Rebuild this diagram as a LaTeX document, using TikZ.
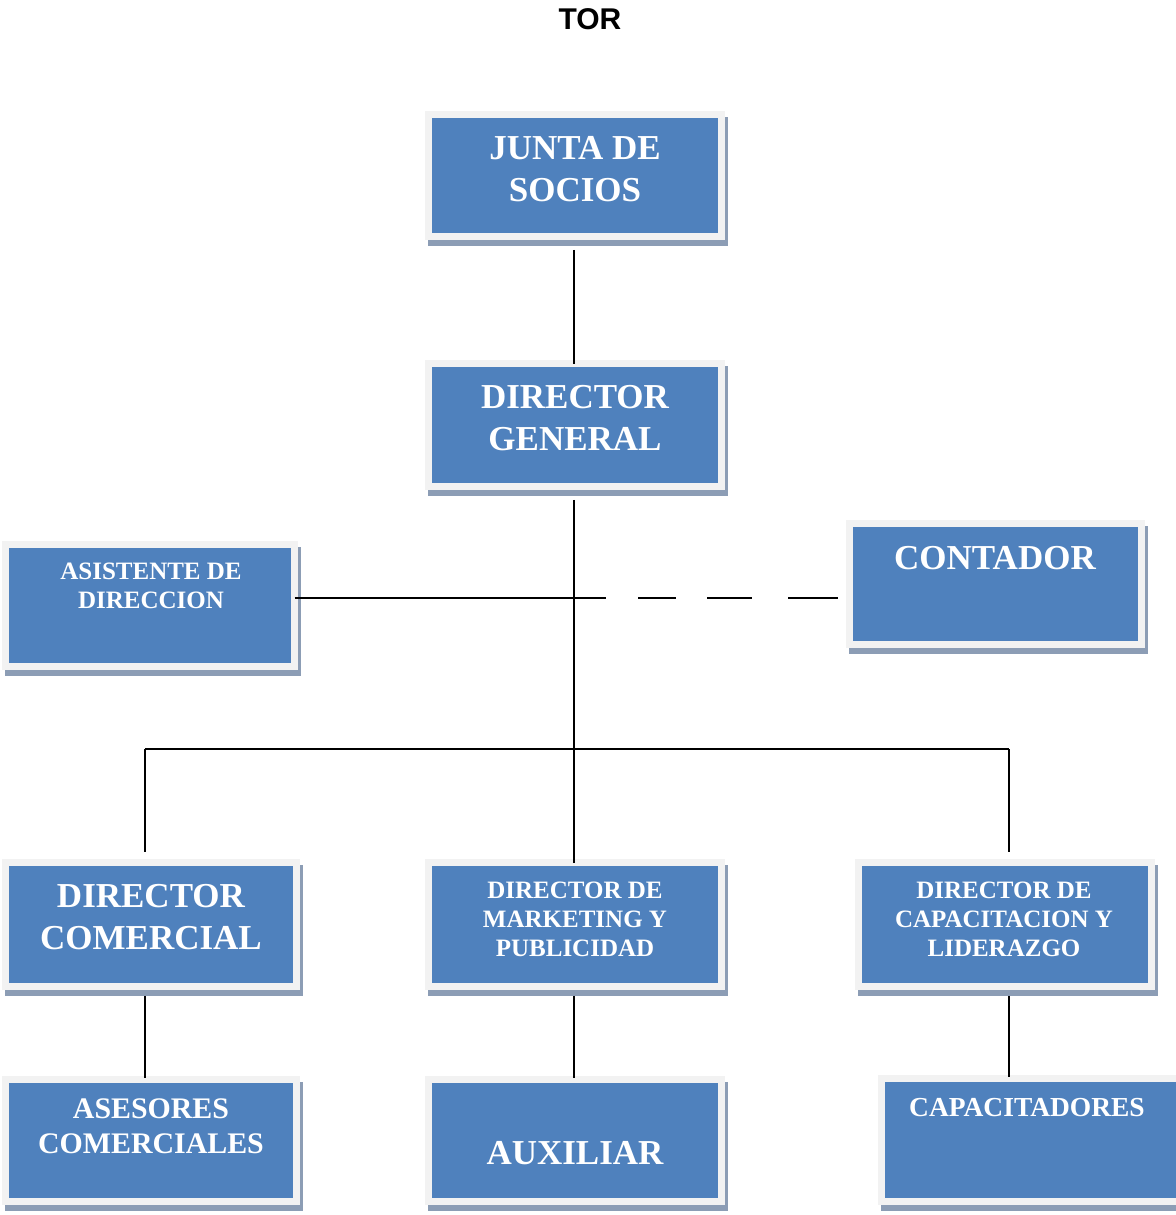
\documentclass[tikz,border=0pt]{standalone}
\usepackage{fontspec}
\setmainfont{Liberation Serif}
\newfontfamily\titlefont{Liberation Sans}
\definecolor{boxblue}{HTML}{4F81BD}
\definecolor{boxframe}{HTML}{F2F2F2}
\definecolor{boxshadow}{HTML}{8C9DB5}
\tikzset{
  orgframe/.style={draw=boxframe, fill=boxblue, line width=5.25pt, inner sep=0pt, outer sep=0pt},
  orgshadow/.style={fill=boxshadow},
  conn/.style={line width=1.4pt, black},
  lbl/.style={text=white, align=center, inner sep=0pt, font=\bfseries},
  lblbig/.style={lbl, font=\fontsize{26.25pt}{31.5pt}\selectfont\bfseries},
  lblsmall/.style={lbl, font=\fontsize{18.75pt}{21.75pt}\selectfont\bfseries},
  lblmid/.style={lbl, font=\fontsize{22.4pt}{26.25pt}\selectfont\bfseries},
  lblcap/.style={lbl, font=\fontsize{20.6pt}{24pt}\selectfont\bfseries},
}
\newcommand\orgbox[5]{%
  \fill[orgshadow] (#2+3,#3+6) rectangle (#4+3,#5+6);
  \node[orgframe, minimum width={(#4-#2-7)*0.75pt}, minimum height={(#5-#3-7)*0.75pt}] (#1) at ({(#2+#4)/2},{(#3+#5)/2}) {};
}
\begin{document}
\begin{tikzpicture}[x=0.75pt,y=-0.75pt]
\useasboundingbox (0,0) rectangle (1176,1215);
\node[font=\titlefont\fontsize{22.5pt}{27pt}\selectfont\bfseries, inner sep=0pt] (title) at (590,19) {TOR};

% boxes
\orgbox{junta}{425}{111}{725}{240}
\orgbox{dg}{425}{360}{725}{490}
\orgbox{asist}{2}{541}{298}{670}
\orgbox{cont}{846}{520}{1145}{648}
\orgbox{dircom}{2}{859}{300}{990}
\orgbox{mark}{425}{859}{725}{990}
\orgbox{capac}{855}{859}{1155}{990}
\orgbox{ases}{2}{1076}{300}{1205}
\orgbox{aux}{425}{1076}{725}{1205}
\orgbox{capt}{878}{1075}{1183}{1205}

% labels
\node[lblbig] (tjunta) at (575,169) {JUNTA DE\\SOCIOS};
\node[lblbig] (tdg) at (575,418) {DIRECTOR\\GENERAL};
\node[lblsmall] (tasist) at (151,586) {ASISTENTE DE\\DIRECCION};
\node[lblbig] (tcont) at (995,558) {CONTADOR};
\node[lblbig] (tdircom) at (151,917) {DIRECTOR\\COMERCIAL};
\node[lblsmall] (tmark) at (575,919) {DIRECTOR DE\\MARKETING Y\\PUBLICIDAD};
\node[lblsmall] (tcapac) at (1004,919) {DIRECTOR DE\\CAPACITACION Y\\LIDERAZGO};
\node[lblmid] (tases) at (151,1126) {ASESORES\\COMERCIALES};
\node[lblbig] (taux) at (575,1153) {AUXILIAR};
\node[lblcap] (tcapt) at (1027,1108) {CAPACITADORES};

% connectors
\coordinate (hub) at (574,598);
\coordinate (busl) at (145,749);
\coordinate (busm) at (574,749);
\coordinate (busr) at (1009,749);
\draw[conn, shorten <=10pt] (junta.south -| busm) -- (dg.north -| busm);
\draw[conn, shorten <=10pt] (dg.south -| busm) -- (mark.north -| busm);
\draw[conn] (asist.east |- hub) -- (hub);
\draw[conn, dash pattern=on 24pt off 24pt on 28.5pt off 23.25pt on 33.75pt off 27pt on 37.5pt off 20pt, shorten >=6pt] (hub) -- (cont.west |- hub);
\draw[conn] (busl) -- (busr);
\draw[conn, shorten >=8pt] (busl) -- (busl |- dircom.north);
\draw[conn, shorten >=8pt] (busr) -- (busr |- capac.north);
\draw[conn, shorten <=7pt, shorten >=1pt] (dircom.south -| busl) -- (ases.north -| busl);
\draw[conn, shorten <=7pt, shorten >=1pt] (mark.south -| busm) -- (aux.north -| busm);
\draw[conn, shorten <=7pt, shorten >=1pt] (capac.south -| busr) -- (capt.north -| busr);
\end{tikzpicture}
\end{document}
